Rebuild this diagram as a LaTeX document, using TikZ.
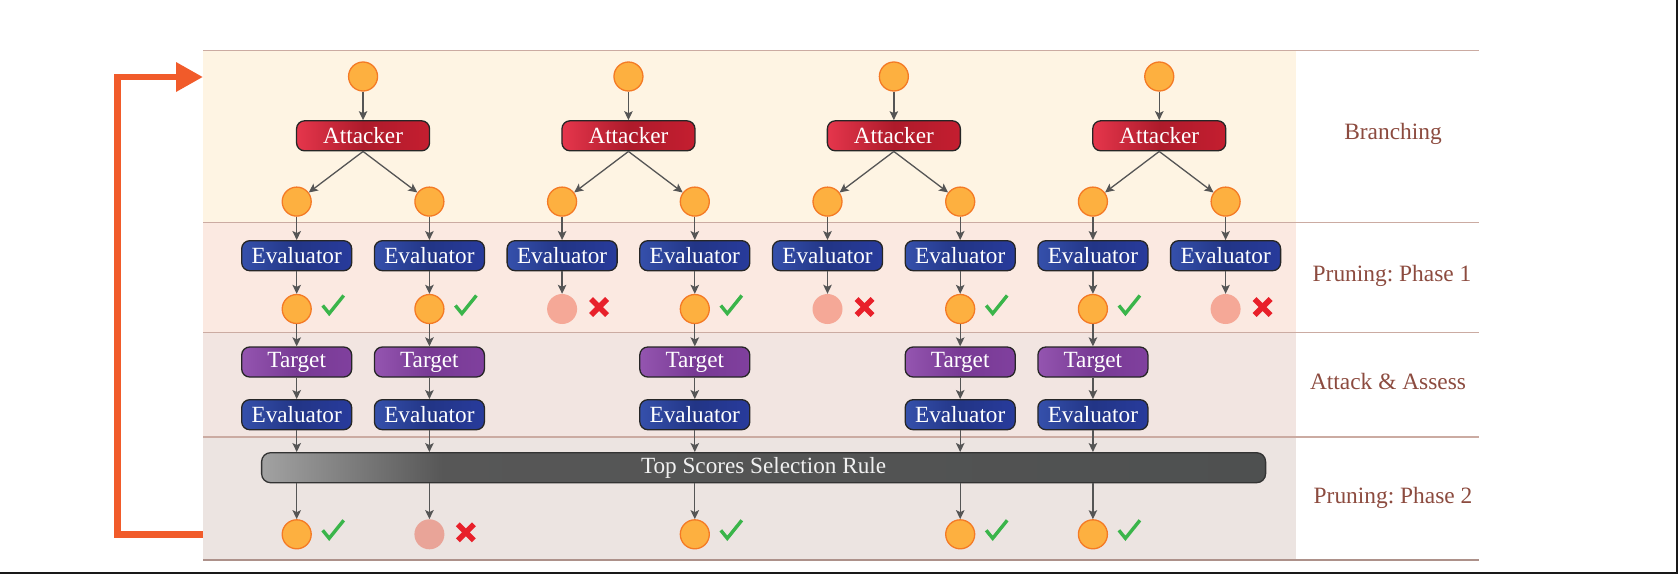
\documentclass[tikz,border=0pt]{standalone}
\usepackage{fontspec}
\setmainfont{Liberation Serif}
\usetikzlibrary{arrows.meta}
\frenchspacing
\definecolor{bandA}{HTML}{FEF4E3}
\definecolor{bandB}{HTML}{FBE9E1}
\definecolor{bandC}{HTML}{F2E5E1}
\definecolor{bandD}{HTML}{ECE4E1}
\definecolor{sepc}{HTML}{CBABA2}
\definecolor{labc}{HTML}{8C4B3F}
\definecolor{atkL}{HTML}{E5364C}
\definecolor{atkM}{HTML}{AE1B2B}
\definecolor{atkR}{HTML}{C41E30}
\definecolor{evL}{HTML}{3550AB}
\definecolor{evM}{HTML}{223586}
\definecolor{evR}{HTML}{283B9C}
\definecolor{tgL}{HTML}{9455B0}
\definecolor{tgM}{HTML}{783A94}
\definecolor{tgR}{HTML}{80409E}
\definecolor{barA}{HTML}{A2A2A2}
\definecolor{barB}{HTML}{575757}
\definecolor{barC}{HTML}{4E5050}
\definecolor{circF}{HTML}{FDB040}
\definecolor{circD}{HTML}{F47A25}
\definecolor{dropA}{HTML}{F5A897}
\definecolor{dropB}{HTML}{E9A498}
\definecolor{okc}{HTML}{3AB54A}
\definecolor{noc}{HTML}{E8202A}
\definecolor{loopc}{HTML}{F15B2A}
\definecolor{arrc}{HTML}{555555}
\pgfdeclarehorizontalshading{barshade}{100bp}{color(0bp)=(barA); color(25bp)=(barA); color(34bp)=(barB); color(75bp)=(barC); color(100bp)=(barC)}
\begin{document}
\begin{tikzpicture}[x=1pt,y=-1pt,
  txt/.style={font=\fontsize{23.2}{27}\selectfont},
  box/.style={txt, rounded corners=8pt, draw=black!85, line width=1.3pt, text=white,
    minimum height=30pt, inner sep=0pt},
  atkbox/.style={box, minimum width=133pt, left color=atkL, right color=atkR, middle color=atkM},
  evbox/.style={box, minimum width=110pt, left color=evL, right color=evR, middle color=evM},
  tgbox/.style={box, minimum width=110pt, left color=tgL, right color=tgR, middle color=tgM},
  barbox/.style={txt, rounded corners=9pt, draw=black!80, line width=1.3pt, text=white!94!black,
    minimum height=30pt, minimum width=1004pt, inner sep=0pt, shade, shading=barshade},
  keepc/.style={circle, minimum size=29pt, inner sep=0pt, fill=circF, draw=circD, line width=1.3pt},
  dropc/.style={circle, minimum size=30pt, inner sep=0pt, fill=dropA},
  dropd/.style={circle, minimum size=30pt, inner sep=0pt, fill=dropB},
  lab/.style={font=\fontsize{23.4}{28}\selectfont, text=labc},
  arr/.style={draw=arrc, line width=1.3pt, -{Stealth[length=9pt,width=8.5pt,inset=2pt]}},
  sep/.style={draw=sepc, line width=1.3pt},
  chk/.pic={\draw[okc, line width=3.4pt, line join=miter] (-10,0) -- (-3.5,8) -- (11,-10);},
  crs/.pic={\draw[noc, line width=5.5pt] (-8,-8) -- (8,8) (-8,8) -- (8,-8);}
]
\useasboundingbox (0,0) rectangle (1678,574);
% bands
\fill[bandA] (203,50.5) rectangle (1296,222.5);
\fill[bandB] (203,222.5) rectangle (1296,332.5);
\fill[bandC] (203,332.5) rectangle (1296,437);
\fill[bandD] (203,437) rectangle (1296,560);
\draw[sep] (203,50.5) -- (1479,50.5);
\draw[sep] (203,222.5) -- (1479,222.5);
\draw[sep] (203,332.5) -- (1479,332.5);
\draw[sep] (203,437) -- (1479,437);
\draw[draw=sepc!85!black, line width=2.4pt] (203,560) -- (1479,560);
% frame edges
\draw[black!90, line width=2pt] (0,573) -- (1677,573) -- (1677,0);
% labels
\node[lab] (l1) at (1393,134) {Branching};
\node[lab] (l2) at (1392,276) {Pruning: Phase 1};
\node[lab] (l3) at (1388,381.5) {Attack \& Assess};
\node[lab] (l4) at (1393,498) {Pruning: Phase 2};
% trees
\foreach \k in {0,...,3}{
  \pgfmathsetmacro{\tx}{363.05+265.4*\k}
  \node[keepc] (r\k) at (\tx,76.5) {};
  \node[atkbox] (a\k) at (\tx,135.8) {Attacker};
  \draw[arr] (r\k) -- (a\k);
}
\foreach \i in {0,...,7}{
  \pgfmathsetmacro{\lx}{296.7+132.7*\i}
  \pgfmathtruncatemacro{\kk}{int(\i/2)}
  \node[keepc] (c\i) at (\lx,201.6) {};
  \node[evbox] (e\i) at (\lx,255.7) {Evaluator};
  \draw[arr] (a\kk.south) -- (c\i);
  \draw[arr] (c\i) -- (e\i);
}
\foreach \i/\s in {0/keepc,1/keepc,2/dropc,3/keepc,4/dropc,5/keepc,6/keepc,7/dropc}{
  \node[\s] (p\i) at (e\i |- 0,309) {};
  \draw[arr] (e\i) -- (p\i);
}
\foreach \i in {0,1,3,5,6}{ \path (p\i) ++(36,-3.5) pic {chk}; }
\foreach \i in {2,4,7}{ \path (p\i) ++(37,-2) pic {crs}; }
% attack & assess
\node[barbox] (bar) at (763.6,467.7) {Top Scores Selection Rule};
\foreach \i in {0,1,3,5,6}{
  \node[tgbox] (t\i) at (e\i |- 0,362) {Target};
  \node[evbox] (f\i) at (e\i |- 0,414.7) {Evaluator};
  \draw[arr] (p\i) -- (t\i);
  \draw[arr] (t\i) -- (f\i);
  \draw[arr] (f\i) -- (f\i |- bar.north);
}
\foreach \i/\s in {0/keepc,1/dropd,3/keepc,5/keepc,6/keepc}{
  \node[\s] (q\i) at (e\i |- 0,534.3) {};
  \draw[arr] (q\i |- bar.south) -- (q\i);
}
\foreach \i in {0,3,5,6}{ \path (q\i) ++(36,-4) pic {chk}; }
\path (q1) ++(36.5,-2) pic {crs};
% loop arrow
\coordinate (lb) at (203,534.3);
\coordinate (lx) at (117.5,300);
\coordinate (lt) at (203,77);
\draw[loopc, line width=6.5pt, line join=miter, -{Triangle[length=27pt,width=28pt]}] (lb) -| (lx) |- (lt);
\end{tikzpicture}
\end{document}
